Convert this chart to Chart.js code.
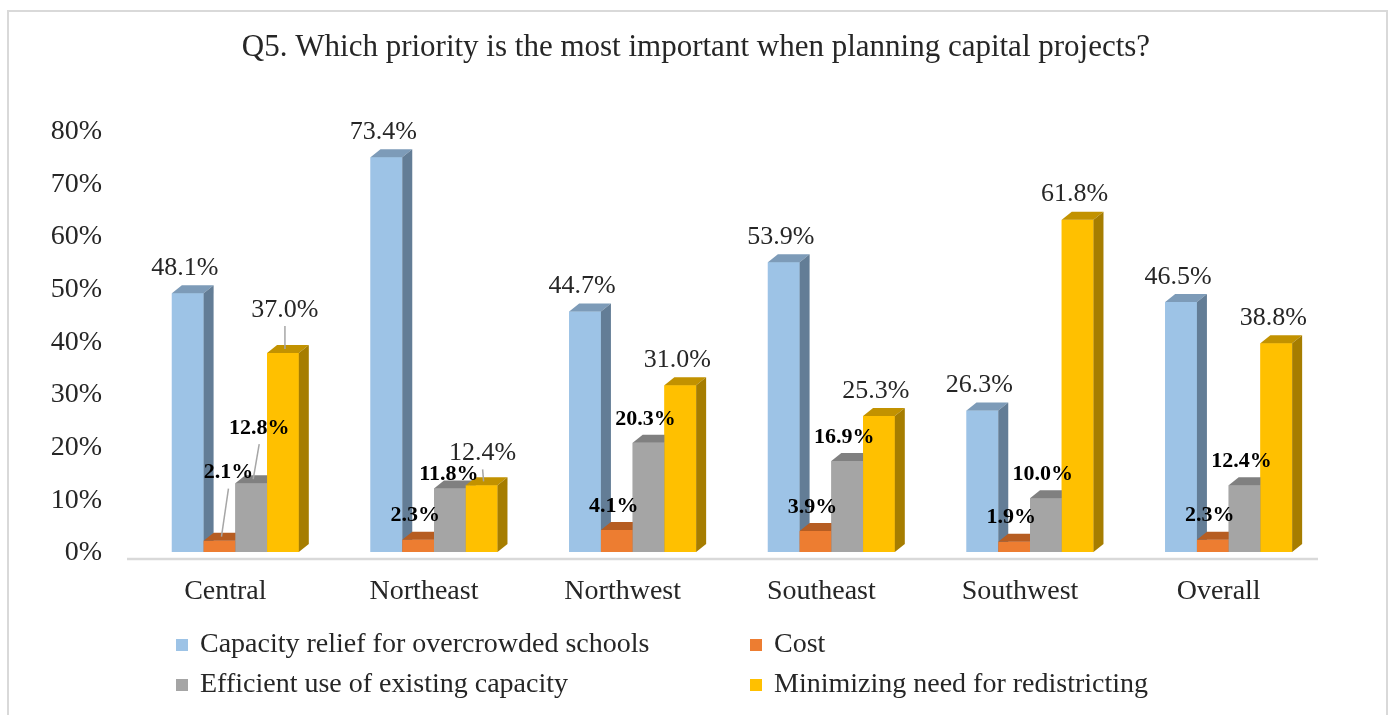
<!DOCTYPE html>
<html>
<head>
<meta charset="utf-8">
<script src="https://cdn.jsdelivr.net/npm/chart.js@4"></script>
<style>
  html, body { margin: 0; padding: 0; background: #fff; }
</style>
</head>
<body>
<canvas id="chart" width="1392" height="715"></canvas>
<script>
// values (percent)
const categories = ['Central', 'Northeast', 'Northwest', 'Southeast', 'Southwest', 'Overall'];
const seriesNames = [
  'Capacity relief for overcrowded schools',
  'Cost',
  'Efficient use of existing capacity',
  'Minimizing need for redistricting'
];
const capacityRelief = [48.1, 73.4, 44.7, 53.9, 26.3, 46.5];
const cost = [2.1, 2.3, 4.1, 3.9, 1.9, 2.3];
const efficientUse = [12.8, 11.8, 20.3, 16.9, 10.0, 12.4];
const minimizingRedistricting = [37.0, 12.4, 31.0, 25.3, 61.8, 38.8];
const yTicks = [0, 10, 20, 30, 40, 50, 60, 70, 80];

const FONT = "'Liberation Serif', 'Times New Roman', serif";
const TEXT = '#262626';

// front / top / side colours of the fake 3d columns
const frontColors = ['#9DC3E6', '#ED7D31', '#A5A5A5', '#FFC000'];
const topColors = ['#7D9BB8', '#B65D22', '#808080', '#C29200'];
const sideColors = ['#637D96', '#A9551E', '#777777', '#A67D00'];
const DX = 10, DY = 8;

// hand placed labels (category-series) like in the original, the rest sit above the bar
const labelNudge = {
  '0-1': { dx: 12, dy: -44, leader: true },
  '0-2': { dx: 11, dy: -31, leader: true },
  '0-3': { dx: 5, dy: -18, leader: true },
  '1-2': { dx: 2, dy: 10 },
  '1-3': { dx: 4, dy: -7, leader: true }
};
const boldSeries = [false, true, true, false];

function face(ctx, pts, color) {
  ctx.beginPath();
  ctx.moveTo(pts[0][0], pts[0][1]);
  for (let i = 1; i < pts.length; i++) ctx.lineTo(pts[i][0], pts[i][1]);
  ctx.closePath();
  ctx.fillStyle = color;
  ctx.fill();
}

const bars3d = {
  id: 'bars3d',
  beforeDraw(chart) {
    const ctx = chart.ctx;
    const area = chart.chartArea;
    ctx.save();
    // chart border
    ctx.strokeStyle = '#D9D9D9';
    ctx.lineWidth = 2;
    ctx.strokeRect(8, 11, 1379, 720);
    // floor line
    const y0 = chart.scales.y.getPixelForValue(0) + 7;
    ctx.lineWidth = 2.5;
    ctx.beginPath();
    ctx.moveTo(area.left - 9, y0);
    ctx.lineTo(area.right - 10, y0);
    ctx.stroke();
    ctx.restore();
  },
  afterDatasetsDraw(chart) {
    const ctx = chart.ctx;
    const metas = chart.data.datasets.map((d, i) => chart.getDatasetMeta(i));
    ctx.save();
    for (let c = 0; c < categories.length; c++) {
      metas.forEach((meta, s) => {
        const bar = meta.data[c];
        const { x, y, base, width } = bar.getProps(['x', 'y', 'base', 'width'], true);
        const x0 = x - width / 2, x1 = x + width / 2;
        bar.draw(ctx);
        face(ctx, [[x0, y], [x1, y], [x1 + DX, y - DY], [x0 + DX, y - DY]], topColors[s]);
        face(ctx, [[x1, y], [x1 + DX, y - DY], [x1 + DX, base - DY], [x1, base]], sideColors[s]);
      });
    }

    // data labels
    ctx.textAlign = 'center';
    ctx.textBaseline = 'middle';
    metas.forEach((meta, s) => {
      const values = chart.data.datasets[s].data;
      meta.data.forEach((bar, c) => {
        const nudge = labelNudge[c + '-' + s] || { dx: 0, dy: 0 };
        const bold = boldSeries[s];
        const lx = bar.x - 3 + nudge.dx;
        const ly = bar.y - (bold ? 24 : 25) + nudge.dy;
        if (nudge.leader) {
          ctx.strokeStyle = '#A6A6A6';
          ctx.lineWidth = 1.5;
          ctx.beginPath();
          ctx.moveTo(lx, ly + 16);
          ctx.lineTo(bar.x + 2, bar.y - 4);
          ctx.stroke();
        }
        ctx.font = bold ? 'bold 22px ' + FONT : '26px ' + FONT;
        ctx.fillStyle = bold ? '#000000' : TEXT;
        ctx.fillText(values[c].toFixed(1) + '%', lx, ly);
      });
    });
    ctx.restore();
  },
  afterDraw(chart) {
    // two column legend like the Excel original
    const ctx = chart.ctx;
    const spots = [[176, 645], [750, 645], [176, 685], [750, 685]];
    ctx.save();
    ctx.font = '28px ' + FONT;
    ctx.textBaseline = 'middle';
    ctx.textAlign = 'left';
    chart.data.datasets.forEach((ds, i) => {
      const [px, py] = spots[i];
      ctx.fillStyle = ds.backgroundColor;
      ctx.fillRect(px, py - 6, 12, 12);
      ctx.fillStyle = TEXT;
      ctx.fillText(ds.label, px + 24, py);
    });
    ctx.restore();
  }
};

const seriesValues = [capacityRelief, cost, efficientUse, minimizingRedistricting];

new Chart(document.getElementById('chart'), {
  type: 'bar',
  data: {
    labels: categories,
    datasets: seriesValues.map((vals, i) => ({
      label: seriesNames[i],
      data: vals,
      backgroundColor: frontColors[i],
      borderWidth: 0,
      categoryPercentage: 0.639,
      barPercentage: 1
    }))
  },
  options: {
    responsive: false,
    animation: false,
    events: [],
    layout: { padding: { left: 0, right: 0, top: 0, bottom: 95 } },
    plugins: {
      legend: { display: false },
      tooltip: { enabled: false },
      title: {
        display: true,
        text: 'Q5. Which priority is the most important when planning capital projects?',
        color: TEXT,
        font: { family: FONT, size: 31, weight: 'normal' },
        padding: { top: 29, bottom: 34 }
      }
    },
    scales: {
      x: {
        grid: { display: false, drawTicks: false },
        border: { display: false },
        ticks: { color: TEXT, font: { family: FONT, size: 28 }, padding: 15, labelOffset: -10 },
        afterFit: s => { s.height = 60; }
      },
      y: {
        display: false,
        min: -1.487,
        max: 84.015
      },
      yLabels: {
        position: 'left',
        min: -1.328,
        max: 85.958,
        grid: { display: false, drawTicks: false },
        border: { display: false },
        afterBuildTicks: s => { s.ticks = yTicks.map(v => ({ value: v })); },
        ticks: {
          color: TEXT,
          font: { family: FONT, size: 28 },
          padding: 34,
          callback: v => v + '%'
        },
        afterFit: s => { s.width = 136; }
      },
      // empty right-hand spacer so the plot area stops where the original does
      spacer: {
        position: 'right',
        grid: { display: false, drawTicks: false },
        border: { display: false },
        ticks: { display: false },
        afterFit: s => { s.width = 64; }
      }
    }
  },
  plugins: [bars3d]
});
</script>
</body>
</html>
